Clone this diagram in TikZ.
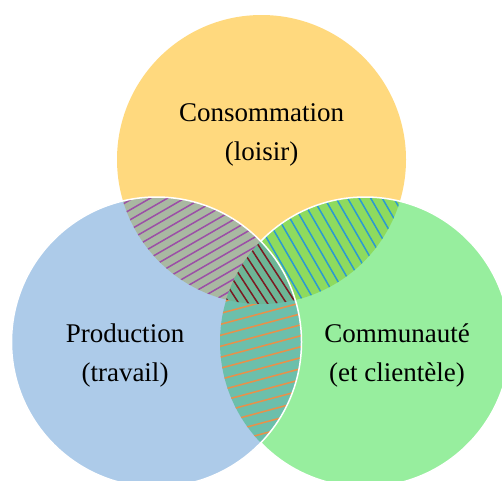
\documentclass[tikz,border=0pt]{standalone}
\usepackage{fontspec}
\setmainfont{Liberation Serif}
\definecolor{cy}{HTML}{FFD97E}
\definecolor{cb}{HTML}{ADCBE9}
\definecolor{cg}{HTML}{97EE9E}
\definecolor{cyb}{HTML}{A9B8A2}
\definecolor{cyg}{HTML}{8EDB5E}
\definecolor{cbg}{HTML}{6CBFAB}
\definecolor{cybg}{HTML}{6DB596}
\definecolor{hpur}{HTML}{9B4FA6}
\definecolor{hblu}{HTML}{2B9AD0}
\definecolor{hred}{HTML}{7B1A22}
\definecolor{hora}{HTML}{E8904A}
\begin{document}
\begin{tikzpicture}[x=1pt,y=-1pt,
  hatch/.style={line width=1.5pt},
  outline/.style={draw=white,line width=1.5pt},
  lbl/.style={align=center,inner sep=0pt,font=\fontsize{27}{39}\selectfont}]
\useasboundingbox (0,0) rectangle (502,480);
\fill[white] (0,0) rectangle (502,480);
\coordinate (Y) at (261.5,159.5);
\coordinate (B) at (156.5,342);
\coordinate (G) at (365,342);
% base circles
\fill[cy] (Y) circle[radius=144.5];
\fill[cg] (G) circle[radius=145];
\fill[cb] (B) circle[radius=145];
% yellow & blue
\begin{scope}
  \clip (Y) circle[radius=144.5];
  \clip (B) circle[radius=145];
  \fill[cyb] (0,0) rectangle (502,480);
  \begin{scope}[shift={(180,245)},rotate=30]
    \foreach \d in {-150,-141.4,...,150} \draw[hatch,hpur] (-200,\d) -- (200,\d);
  \end{scope}
\end{scope}
% yellow & green
\begin{scope}
  \clip (Y) circle[radius=144.5];
  \clip (G) circle[radius=145];
  \fill[cyg] (0,0) rectangle (502,480);
  \begin{scope}[shift={(340,245)},rotate=-60]
    \foreach \d in {-150,-140,...,150} \draw[hatch,hblu] (-200,\d) -- (200,\d);
  \end{scope}
\end{scope}
% blue & green
\begin{scope}
  \clip (B) circle[radius=145];
  \clip (G) circle[radius=145];
  \fill[cbg] (0,0) rectangle (502,480);
  \begin{scope}[shift={(261,370)},rotate=15]
    \foreach \d in {-150,-139.4,...,150} \draw[hatch,hora] (-200,\d) -- (200,\d);
  \end{scope}
\end{scope}
% triple
\begin{scope}
  \clip (Y) circle[radius=144.5];
  \clip (B) circle[radius=145];
  \clip (G) circle[radius=145];
  \fill[cybg] (0,0) rectangle (502,480);
  \begin{scope}[shift={(261,275)},rotate=-57]
    \foreach \d in {-150,-142,...,150} \draw[hatch,hred] (-200,\d) -- (200,\d);
  \end{scope}
\end{scope}
% white outlines
\draw[outline] (G) ++(-136:145) arc[start angle=-136,end angle=136,radius=145];
\draw[outline] (B) circle[radius=145];
% labels
\node[lbl] (cons) at (261.5,135) {Consommation\\(loisir)};
\node[lbl] (prod) at (125,355) {Production\\(travail)};
\node[lbl] (comm) at (397,355) {Communauté\\(et clientèle)};
\end{tikzpicture}
\end{document}
